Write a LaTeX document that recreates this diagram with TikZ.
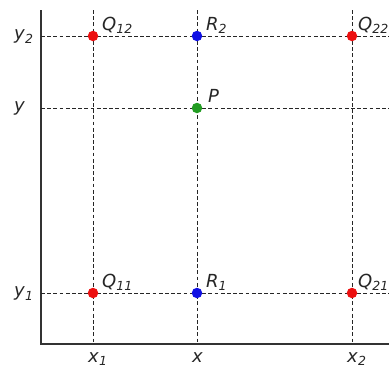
\documentclass[tikz,border=0pt]{standalone}
\usepackage{fontspec}
\setmainfont{DejaVu Sans}
\usepackage{tikz}
\usetikzlibrary{positioning}
\definecolor{ptred}{RGB}{236,16,16}
\definecolor{ptblue}{RGB}{16,16,228}
\definecolor{ptgreen}{RGB}{34,156,34}
% italic symbol with a small lowered index
\newcommand{\sym}[2]{\textit{#1}\raisebox{-0.2em}{\fontsize{12.5}{13}\selectfont\itshape #2}}

\begin{document}
\begin{tikzpicture}[x=1pt, y=-1pt,
  axis/.style={line width=1.3pt, black!80},
  gridline/.style={line width=0.9pt, black!85, dash pattern=on 3.8pt off 2.4pt},
  dot/.style={circle, fill=#1, inner sep=0pt, minimum size=10.5pt},
  ptlabel/.style={anchor=base west, xshift=9pt, yshift=6pt, inner sep=0pt, text=black!85, font=\fontsize{18}{20}\selectfont},
  ticklabel/.style={anchor=base west, inner sep=0pt, text=black!85, font=\fontsize{18}{20}\selectfont}]
\useasboundingbox (0,0) rectangle (389,368);

%----- assi -----
\coordinate (ytop) at (41,10);
\coordinate (orig) at (41,344);
\coordinate (xend) at (389,344);
\draw[axis] (ytop) -- (orig) -- (xend);

%----- linee tratteggiate -----
\foreach \n/\x in {x1/93, x/197, x2/352}{
  \coordinate (\n top) at (\x,10);
  \coordinate (\n bot) at (\x,344);
  \draw[gridline] (\n top) -- (\n bot);
}
\foreach \n/\y in {y2/36, y/108, y1/293}{
  \coordinate (\n left) at (41,\y);
  \coordinate (\n right) at (392,\y);
  \draw[gridline] (\n left) -- (\n right);
}

%----- punti -----
\node[dot=ptred] (q12) at (93,36) {};
\node[dot=ptblue] (r2) at (197,36) {};
\node[dot=ptred] (q22) at (352,36) {};
\node[dot=ptgreen] (p) at (197,108) {};
\node[dot=ptred] (q11) at (93,293) {};
\node[dot=ptblue] (r1) at (197,293) {};
\node[dot=ptred] (q21) at (352,293) {};

\node[ptlabel] (q12lbl) at (q12.center) {\sym{Q}{12}};
\node[ptlabel] (r2lbl) at (r2.center) {\sym{R}{2}};
\node[ptlabel, xshift=-3pt] (q22lbl) at (q22.center) {\sym{Q}{22}};
\node[ptlabel, xshift=2pt] (plbl) at (p.center) {\textit{P}};
\node[ptlabel] (q11lbl) at (q11.center) {\sym{Q}{11}};
\node[ptlabel] (r1lbl) at (r1.center) {\sym{R}{1}};
\node[ptlabel, xshift=-3pt] (q21lbl) at (q21.center) {\sym{Q}{21}};

%----- etichette sugli assi -----
\node[ticklabel, yshift=-3.5pt] (y2lbl) at (14,36) {\sym{y}{2}};
\node[ticklabel, yshift=-3.5pt] (ylbl) at (14,108) {\textit{y}};
\node[ticklabel, yshift=-3.5pt] (y1lbl) at (14,293) {\sym{y}{1}};
\node[ticklabel, xshift=-5pt] (x1lbl) at (93,362) {\sym{x}{1}};
\node[ticklabel, xshift=-5pt] (xlbl) at (197,362) {\textit{x}};
\node[ticklabel, xshift=-5pt] (x2lbl) at (352,362) {\sym{x}{2}};
\end{tikzpicture}
\end{document}
